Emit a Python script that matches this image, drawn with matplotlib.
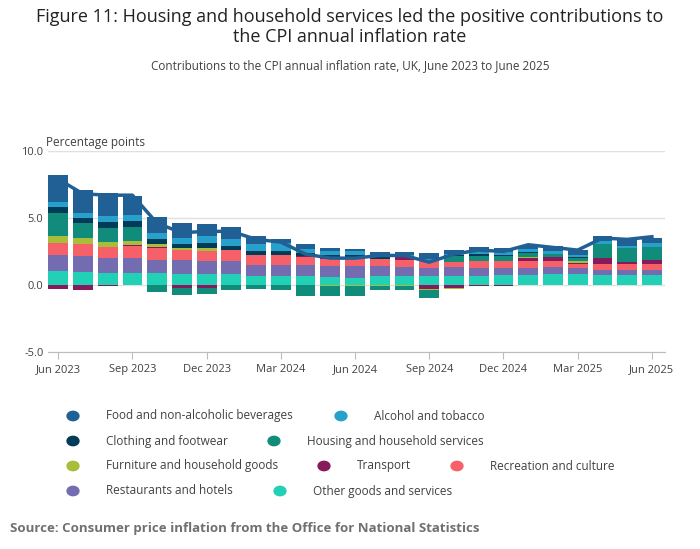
import matplotlib
matplotlib.use("Agg")
import matplotlib.pyplot as plt
import numpy as np

plt.rcParams['font.family'] = ['Open Sans', 'DejaVu Sans']

months = ["Jun 2023","Jul 2023","Aug 2023","Sep 2023","Oct 2023","Nov 2023","Dec 2023","Jan 2024","Feb 2024","Mar 2024","Apr 2024","May 2024","Jun 2024","Jul 2024","Aug 2024","Sep 2024","Oct 2024","Nov 2024","Dec 2024","Jan 2025","Feb 2025","Mar 2025","Apr 2025","May 2025","Jun 2025"]
other = [1.05,0.97,0.9,0.9,0.9,0.82,0.82,0.82,0.67,0.67,0.67,0.6,0.52,0.65,0.65,0.65,0.65,0.65,0.72,0.72,0.8,0.8,0.72,0.72,0.72]
rest = [1.2,1.19,1.1,1.1,0.97,1.05,0.98,0.98,0.82,0.82,0.82,0.82,0.9,0.75,0.67,0.6,0.67,0.6,0.53,0.53,0.52,0.45,0.38,0.38,0.38]
recr = [0.88,0.9,0.83,0.9,0.89,0.73,0.74,0.8,0.75,0.75,0.6,0.52,0.59,0.52,0.52,0.59,0.38,0.52,0.52,0.52,0.45,0.3,0.45,0.45,0.45]
transport = [-0.27,-0.35,-0.1,0.07,0.07,-0.2,-0.2,0,0,0,0.07,0.04,0.02,0.02,0.26,-0.34,-0.25,-0.05,-0.05,0.22,0.3,0.07,0.45,0.15,0.3]
furn = [0.52,0.44,0.37,0.3,0.23,0.16,0.22,0,0,0,0,-0.05,-0.05,-0.05,-0.05,-0.05,-0.05,-0.05,0,0.07,0,0.15,0,0,0]
housing = [1.72,1.13,1.05,1.06,-0.5,-0.55,-0.5,-0.35,-0.27,-0.35,-0.8,-0.8,-0.8,-0.32,-0.32,-0.55,0.45,0.38,0.38,0.3,0.22,0.23,1.04,1.04,0.96]
cloth = [0.45,0.37,0.45,0.45,0.37,0.3,0.37,0.3,0.3,0.3,0.23,0.26,0.23,0.12,0.07,0,0.05,0.15,0.07,0.08,0,0.05,0,0,0]
alc = [0.38,0.37,0.45,0.44,0.45,0.44,0.52,0.53,0.52,0.59,0.3,0.3,0.3,0.15,0.1,0.1,0.1,0.22,0.23,0.22,0.23,0.17,0.22,0.16,0.3]
food = [2.0,1.73,1.7,1.42,1.19,1.1,0.9,0.9,0.59,0.3,0.37,0.22,0.15,0.25,0.2,0.45,0.3,0.29,0.29,0.23,0.38,0.37,0.37,0.5,0.37]
cpi = [7.9,6.8,6.7,6.7,4.6,3.9,4.0,4.0,3.4,3.2,2.3,2.0,2.0,2.2,2.2,1.7,2.3,2.6,2.5,3.0,2.8,2.6,3.5,3.4,3.6]

series = [
    ("Other goods and services", other, "#22d0b6"),
    ("Restaurants and hotels", rest, "#746cb1"),
    ("Recreation and culture", recr, "#f66068"),
    ("Transport", transport, "#871a5b"),
    ("Furniture and household goods", furn, "#a8bd3a"),
    ("Housing and household services", housing, "#118c7b"),
    ("Clothing and footwear", cloth, "#003c57"),
    ("Alcohol and tobacco", alc, "#27a0cc"),
    ("Food and non-alcoholic beverages", food, "#206095"),
]

fig = plt.figure(figsize=(7, 5.49), dpi=100)
ax = fig.add_axes([0.069, 0.359, 0.881, 0.366])
x = np.arange(len(months))
pos = np.zeros(len(x)); neg = np.zeros(len(x))
for name, vals, col in series:
    v = np.array(vals)
    p = np.where(v > 0, v, 0); n = np.where(v < 0, v, 0)
    ax.bar(x, p, bottom=pos, width=0.8, color=col, linewidth=0)
    ax.bar(x, n, bottom=neg, width=0.8, color=col, linewidth=0)
    pos += p; neg += n
ax.plot(x, cpi, color="#206095", lw=2.5)

ax.set_ylim(-5, 10)
ax.set_xlim(-0.40, 24.53)
ax.set_yticks([-5, 0, 5, 10])
ax.set_yticklabels(["-5.0", "0.0", "5.0", "10.0"])
ax.set_xticks(x[::3])
ax.set_xticklabels(months[::3])
ax.tick_params(axis='both', labelsize=8, colors="#414042", length=0)
ax.tick_params(axis='x', length=5, color="#bbbbbb", pad=4)
ax.grid(axis='y', color="#e0e0e0", lw=1)
ax.set_axisbelow(True)
for s in ["top", "right", "left"]:
    ax.spines[s].set_visible(False)
ax.spines["bottom"].set_color("#bbbbbb")

fig.text(0.5, 0.985, "Figure 11: Housing and household services led the positive contributions to\nthe CPI annual inflation rate",
         ha="center", va="top", fontsize=13, color="#222222", linespacing=1.1)
fig.text(0.5, 0.893, "Contributions to the CPI annual inflation rate, UK, June 2023 to June 2025",
         ha="center", va="top", fontsize=8.5, color="#414042")
fig.text(0.066, 1 - 149 / 549, "Percentage points", fontsize=8.5, color="#414042", va="bottom")

legend_pos = {
    "Food and non-alcoholic beverages": (73, 416),
    "Alcohol and tobacco": (341, 416),
    "Clothing and footwear": (73, 441),
    "Housing and household services": (274, 441),
    "Furniture and household goods": (73, 466),
    "Transport": (324, 466),
    "Recreation and culture": (457, 466),
    "Restaurants and hotels": (73, 491),
    "Other goods and services": (280, 491),
}
for name, vals, col in series:
    px, py = legend_pos[name]
    fig.patches.append(matplotlib.patches.Circle((px / 700, 1 - py / 549), 0.0085,
                       transform=fig.transFigure, color=col, figure=fig))
    fig.text((px + 33) / 700, 1 - py / 549, name, fontsize=8.5, color="#414042", va="center")

fig.text(0.014, 0.025, "Source: Consumer price inflation from the Office for National Statistics",
         fontsize=9.5, fontweight="bold", color="#707070", va="bottom")
fig.savefig("out.png", dpi=100, facecolor="white")
